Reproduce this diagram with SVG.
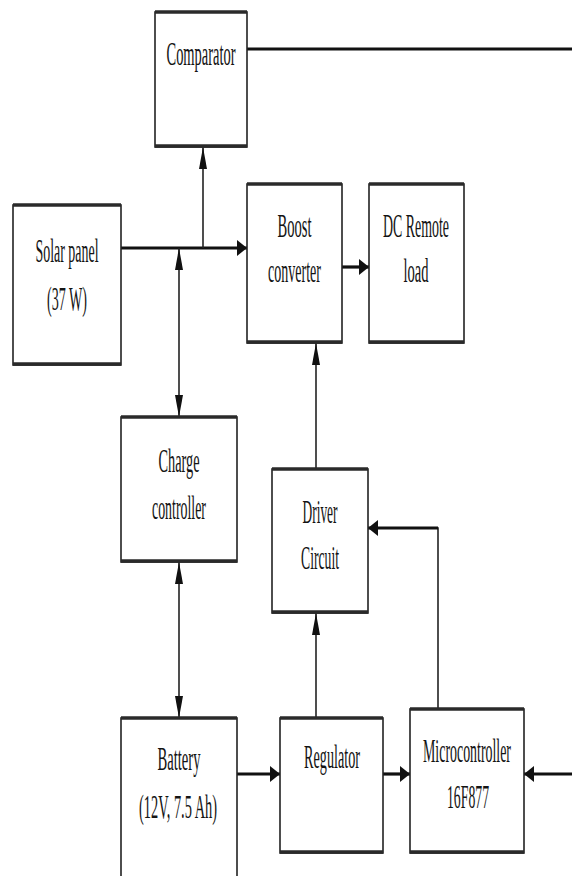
<svg xmlns="http://www.w3.org/2000/svg" width="572" height="876" viewBox="0 0 572 876">
<style>
.box{fill:#fff;stroke:#222;stroke-width:1.6}
.edge{stroke:#2a2a2a;stroke-width:3.5}
.t{font-family:"Liberation Serif","Times New Roman",serif;font-size:34px;fill:#141414;text-anchor:middle}
.thick{stroke:#111;stroke-width:3.2;fill:none}
.thin{stroke:#222;stroke-width:1.6;fill:none}
</style>
<defs>
<marker id="ah" markerUnits="userSpaceOnUse" markerWidth="11" markerHeight="18" refX="10" refY="8" orient="auto"><path d="M0,0 L10,8 L0,16 z" fill="#111"/></marker>
<marker id="av" markerUnits="userSpaceOnUse" markerWidth="23" markerHeight="9" refX="22" refY="4" orient="auto-start-reverse"><path d="M0,0 L22,4 L0,8 z" fill="#111"/></marker>
</defs>
<rect width="572" height="876" fill="#fff"/>
<g id="connectors">
<line class="thick" x1="247" y1="49" x2="572" y2="49"/>
<line class="thick" x1="121" y1="248" x2="247" y2="248" marker-end="url(#ah)"/>
<line class="thin" x1="203" y1="248" x2="203" y2="147" marker-end="url(#av)"/>
<line class="thin" x1="179" y1="248" x2="179" y2="417" marker-start="url(#av)" marker-end="url(#av)"/>
<line class="thick" x1="342" y1="267" x2="369" y2="267" marker-end="url(#ah)"/>
<line class="thin" x1="316" y1="469" x2="316" y2="343" marker-end="url(#av)"/>
<line class="thin" x1="179" y1="562" x2="179" y2="718" marker-start="url(#av)" marker-end="url(#av)"/>
<line class="thin" x1="316" y1="718" x2="316" y2="613" marker-end="url(#av)"/>
<line class="thick" x1="237" y1="774" x2="280" y2="774" marker-end="url(#ah)"/>
<line class="thick" x1="383" y1="774" x2="410" y2="774" marker-end="url(#ah)"/>
<line class="thick" x1="572" y1="774" x2="524" y2="774" marker-end="url(#ah)"/>
<polyline class="thin" points="438,709 438,528 400,528"/>
<line class="thick" x1="438" y1="528" x2="368" y2="528" marker-end="url(#ah)"/>
</g>
<g id="comparator">
<rect class="box" x="155" y="12" width="92" height="135"/>
<line class="edge" x1="155" y1="12" x2="247" y2="12"/><line class="edge" x1="155" y1="146" x2="247" y2="146"/>
<text class="t" transform="translate(201,65) scale(0.5,1)" textLength="138" lengthAdjust="spacingAndGlyphs">Comparator</text>
</g>
<g id="solar">
<rect class="box" x="13" y="205" width="108" height="160"/>
<line class="edge" x1="13" y1="205" x2="121" y2="205"/><line class="edge" x1="13" y1="364" x2="121" y2="364"/>
<text class="t" transform="translate(67,262) scale(0.5,1)" textLength="126" lengthAdjust="spacingAndGlyphs">Solar panel</text>
<text class="t" transform="translate(67,310) scale(0.5,1)" textLength="80" lengthAdjust="spacingAndGlyphs">(37 W)</text>
</g>
<g id="boost">
<rect class="box" x="247" y="184" width="95" height="159"/>
<line class="edge" x1="247" y1="184" x2="342" y2="184"/><line class="edge" x1="247" y1="342" x2="342" y2="342"/>
<text class="t" transform="translate(294.5,237) scale(0.5,1)" textLength="68" lengthAdjust="spacingAndGlyphs">Boost</text>
<text class="t" transform="translate(294.5,282) scale(0.5,1)" textLength="106" lengthAdjust="spacingAndGlyphs">converter</text>
</g>
<g id="dcload">
<rect class="box" x="369" y="184" width="95" height="159"/>
<line class="edge" x1="369" y1="184" x2="464" y2="184"/><line class="edge" x1="369" y1="342" x2="464" y2="342"/>
<text class="t" transform="translate(416,237) scale(0.5,1)" textLength="132" lengthAdjust="spacingAndGlyphs">DC Remote</text>
<text class="t" transform="translate(416,282) scale(0.5,1)" textLength="50" lengthAdjust="spacingAndGlyphs">load</text>
</g>
<g id="charge">
<rect class="box" x="121" y="417" width="116" height="145"/>
<line class="edge" x1="121" y1="417" x2="237" y2="417"/><line class="edge" x1="121" y1="561" x2="237" y2="561"/>
<text class="t" transform="translate(179,472) scale(0.5,1)" textLength="82" lengthAdjust="spacingAndGlyphs">Charge</text>
<text class="t" transform="translate(179,519) scale(0.5,1)" textLength="108" lengthAdjust="spacingAndGlyphs">controller</text>
</g>
<g id="driver">
<rect class="box" x="272" y="469" width="96" height="144"/>
<line class="edge" x1="272" y1="469" x2="368" y2="469"/><line class="edge" x1="272" y1="612" x2="368" y2="612"/>
<text class="t" transform="translate(320,523) scale(0.5,1)" textLength="70" lengthAdjust="spacingAndGlyphs">Driver</text>
<text class="t" transform="translate(320,569) scale(0.5,1)" textLength="76" lengthAdjust="spacingAndGlyphs">Circuit</text>
</g>
<g id="battery">
<rect class="box" x="121" y="718" width="116" height="170"/>
<line class="edge" x1="121" y1="718" x2="237" y2="718"/>
<text class="t" transform="translate(179,770) scale(0.5,1)" textLength="86" lengthAdjust="spacingAndGlyphs">Battery</text>
<text class="t" transform="translate(178,818) scale(0.5,1)" textLength="156" lengthAdjust="spacingAndGlyphs">(12V, 7.5 Ah)</text>
</g>
<g id="regulator">
<rect class="box" x="280" y="718" width="103" height="135"/>
<line class="edge" x1="280" y1="718" x2="383" y2="718"/><line class="edge" x1="280" y1="852" x2="383" y2="852"/>
<text class="t" transform="translate(332,768) scale(0.5,1)" textLength="112" lengthAdjust="spacingAndGlyphs">Regulator</text>
</g>
<g id="micro">
<rect class="box" x="410" y="709" width="114" height="144"/>
<line class="edge" x1="410" y1="709" x2="524" y2="709"/><line class="edge" x1="410" y1="852" x2="524" y2="852"/>
<text class="t" transform="translate(467,762) scale(0.5,1)" textLength="176" lengthAdjust="spacingAndGlyphs">Microcontroller</text>
<text class="t" transform="translate(468,808) scale(0.5,1)" textLength="84" lengthAdjust="spacingAndGlyphs">16F877</text>
</g>
</svg>
